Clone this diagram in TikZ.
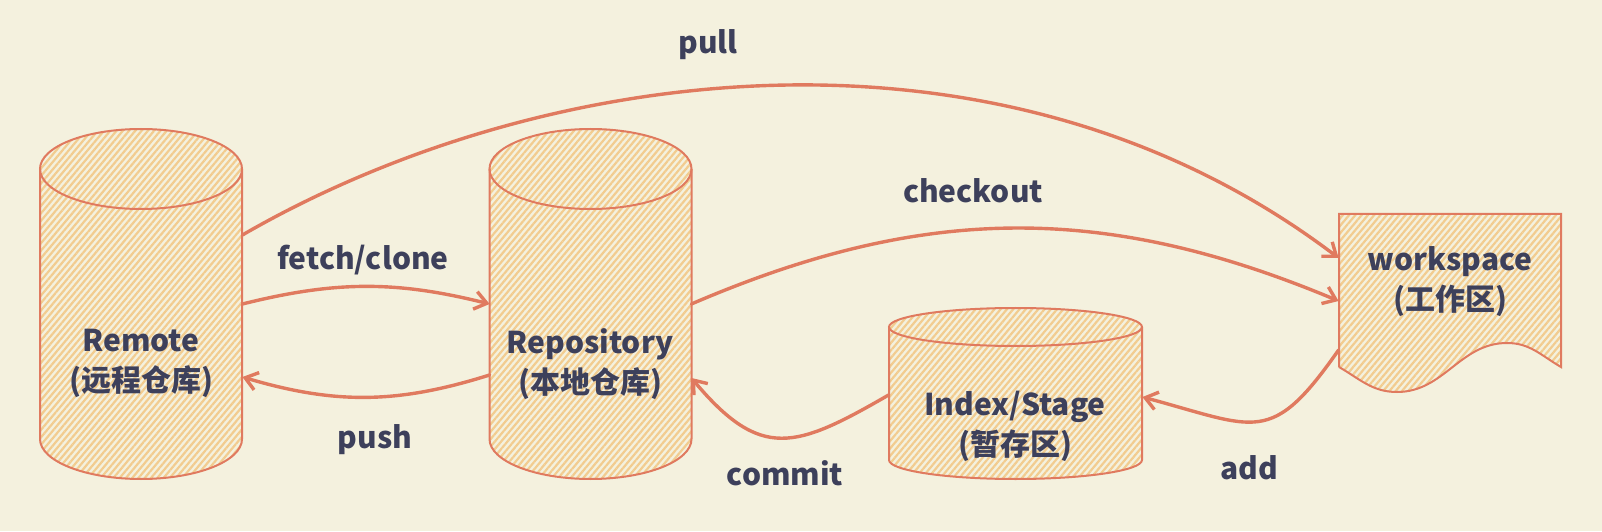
\documentclass[tikz,border=0pt]{standalone}
\usepackage{fontspec}
\setmainfont{Noto Sans CJK SC}
\usetikzlibrary{arrows.meta,patterns.meta,fit}

\definecolor{paper}{HTML}{F4F1DE}
\definecolor{ink}{HTML}{3D405B}
\definecolor{rust}{HTML}{E07A5F}
\definecolor{sand}{HTML}{F2CC8F}

% cylinder: center x, top y, bottom y, x radius, y radius
\newcommand{\drum}[5]{%
  \path[hatched] ({#1-#4},#2) -- ({#1-#4},#3)
    arc[start angle=180,end angle=360,x radius=#4,y radius=#5] -- ({#1+#4},#2)
    arc[start angle=0,end angle=180,x radius=#4,y radius=#5] -- cycle;
  \draw[outline] ({#1-#4},#2) -- ({#1-#4},#3)
    arc[start angle=180,end angle=360,x radius=#4,y radius=#5] -- ({#1+#4},#2);
  \draw[outline] (#1,#2) ellipse[x radius=#4,y radius=#5];
}

\begin{document}
\begin{tikzpicture}[x=0.5pt,y=0.5pt,
    hatched/.style={pattern={Lines[angle=50,distance=2.4pt,line width=1.1pt]},pattern color=sand},
    outline/.style={draw=rust,line width=1pt},
    flow/.style={draw=rust,line width=1.7pt,line cap=round,-{Straight Barb[length=6pt,width=9pt]}},
    boxtext/.style={align=center,text=ink,font=\fontsize{15}{20}\selectfont\bfseries},
    flowtext/.style={text=ink,font=\fontsize{15}{20}\selectfont\bfseries}]
  \useasboundingbox (0,0) rectangle (1602,531);
  \fill[paper] (0,0) rectangle (1602,531);

  % stores
  \drum{141}{362}{92}{101}{40}
  \drum{590.5}{362}{92}{101}{40}
  \drum{1015.5}{204}{71}{126.5}{19}
  \path[hatched] (1339,164) -- (1339,317) -- (1561,317) -- (1561,164)
    to[out=150,in=0] (1507,188) to[out=180,in=0] (1397,139) to[out=180,in=-30] (1339,164) -- cycle;
  \draw[outline] (1339,164) -- (1339,317) -- (1561,317) -- (1561,164)
    to[out=150,in=0] (1507,188) to[out=180,in=0] (1397,139) to[out=180,in=-30] (1339,164);

  \node[fit={(40,92) (242,362)},inner sep=0pt] (remote) {};
  \node[fit={(490,92) (691,362)},inner sep=0pt] (repo) {};
  \node[fit={(889,71) (1142,204)},inner sep=0pt] (index) {};
  \node[fit={(1339,164) (1561,317)},inner sep=0pt] (workspace) {};

  \node[boxtext] (remotetxt) at (141,168) {Remote\\(远程仓库)};
  \node[boxtext] (repotxt) at (590,167) {Repository\\(本地仓库)};
  \node[boxtext] (indextxt) at (1015,105) {Index/Stage\\(暂存区)};
  \node[boxtext] (worktxt) at (1450,249) {workspace\\(工作区)};

  % flows
  \draw[flow] ([shift={(0,69)}]remote.east) .. controls (540,468) and (1000,530) .. ([shift={(0,32.5)}]workspace.west);
  \draw[flow] (remote.east) to[bend left=14] (repo.west);
  \draw[flow] ([shift={(0,-71)}]repo.west) to[bend left=17] ([shift={(0,-73)}]remote.east);
  \draw[flow] (repo.east) to[bend left=23] ([shift={(0,-10.5)}]workspace.west);
  \draw[flow] ([shift={(0,-1.5)}]index.west) to[out=-150,in=-50,looseness=1.4] ([shift={(0,-74)}]repo.east);
  \draw[flow] ([shift={(0,-59.5)}]workspace.west) to[out=-125,in=-15,looseness=1.5] ([shift={(0,-3.5)}]index.east);

  \node[flowtext] (pulltxt) at (708,486) {pull};
  \node[flowtext] (fetchtxt) at (363,271) {fetch/clone};
  \node[flowtext] (pushtxt) at (375,91) {push};
  \node[flowtext] (checkouttxt) at (973,340) {checkout};
  \node[flowtext] (committxt) at (785,58) {commit};
  \node[flowtext] (addtxt) at (1249,63) {add};
\end{tikzpicture}
\end{document}
